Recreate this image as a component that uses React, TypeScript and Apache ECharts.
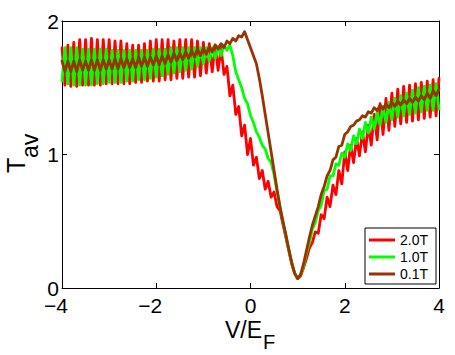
import { useEffect, useRef } from "react";
import * as echarts from "echarts";

// Sampling grid of V/E_F (step 1/16 from -4 to 4)
const vGrid: number[] = Array.from({ length: 129 }, (_, i) => -4 + i / 16);

const seriesNames = ["2.0T", "1.0T", "0.1T"];
const seriesColors = ["#ff0000", "#00ff00", "#993300"];

// T_av, one value per grid point
const tav2_0T = [
  1.80, 1.52, 1.82, 1.51, 1.84, 1.51, 1.86, 1.52, 1.86, 1.52,
  1.87, 1.52, 1.86, 1.52, 1.86, 1.53, 1.86, 1.53, 1.85, 1.53,
  1.85, 1.53, 1.83, 1.53, 1.82, 1.54, 1.82, 1.54, 1.83, 1.55,
  1.85, 1.55, 1.86, 1.55, 1.86, 1.56, 1.86, 1.56, 1.85, 1.57,
  1.86, 1.57, 1.86, 1.58, 1.86, 1.58, 1.85, 1.59, 1.84, 1.61,
  1.83, 1.62, 1.82, 1.63, 1.80, 1.60, 1.66, 1.44, 1.52, 1.30,
  1.36, 1.14, 1.22, 1.00, 1.12, 0.92, 0.98, 0.82, 0.88, 0.74,
  0.80, 0.68, 0.72, 0.61, 0.58, 0.48, 0.38, 0.28, 0.18, 0.11,
  0.07, 0.09, 0.15, 0.22, 0.30, 0.34, 0.42, 0.41, 0.55, 0.52,
  0.68, 0.61, 0.77, 0.70, 0.88, 0.78, 1.02, 0.88, 1.07, 0.94,
  1.12, 0.99, 1.17, 1.02, 1.22, 1.07, 1.30, 1.11, 1.38, 1.15,
  1.42, 1.18, 1.46, 1.21, 1.49, 1.23, 1.51, 1.24, 1.52, 1.25,
  1.53, 1.26, 1.54, 1.27, 1.55, 1.28, 1.56, 1.29, 1.57,
];

const tav1_0T = [
  1.55, 1.80, 1.53, 1.80, 1.52, 1.80, 1.52, 1.79, 1.52, 1.79,
  1.52, 1.79, 1.53, 1.79, 1.53, 1.79, 1.54, 1.78, 1.54, 1.78,
  1.54, 1.78, 1.55, 1.78, 1.55, 1.78, 1.56, 1.78, 1.56, 1.78,
  1.57, 1.79, 1.58, 1.79, 1.59, 1.79, 1.60, 1.80, 1.61, 1.80,
  1.62, 1.80, 1.63, 1.80, 1.64, 1.80, 1.66, 1.80, 1.68, 1.80,
  1.70, 1.80, 1.72, 1.81, 1.74, 1.82, 1.78, 1.82, 1.74, 1.62,
  1.56, 1.50, 1.42, 1.38, 1.29, 1.24, 1.17, 1.13, 1.07, 1.04,
  0.97, 0.94, 0.85, 0.72, 0.61, 0.50, 0.39, 0.29, 0.19, 0.11,
  0.07, 0.10, 0.16, 0.26, 0.34, 0.44, 0.49, 0.58, 0.62, 0.73,
  0.74, 0.84, 0.84, 0.93, 0.92, 1.01, 0.98, 1.08, 1.03, 1.14,
  1.08, 1.19, 1.12, 1.24, 1.16, 1.28, 1.19, 1.32, 1.22, 1.36,
  1.24, 1.39, 1.26, 1.42, 1.28, 1.44, 1.29, 1.46, 1.30, 1.48,
  1.31, 1.50, 1.32, 1.51, 1.33, 1.52, 1.33, 1.53, 1.34,
];

const tav0_1T = [
  1.70, 1.62, 1.70, 1.62, 1.70, 1.62, 1.71, 1.63, 1.70, 1.63,
  1.71, 1.63, 1.71, 1.63, 1.71, 1.64, 1.71, 1.64, 1.72, 1.64,
  1.72, 1.65, 1.72, 1.65, 1.72, 1.65, 1.73, 1.66, 1.73, 1.66,
  1.73, 1.67, 1.74, 1.67, 1.74, 1.68, 1.75, 1.69, 1.76, 1.70,
  1.76, 1.71, 1.77, 1.72, 1.78, 1.73, 1.79, 1.74, 1.80, 1.75,
  1.81, 1.77, 1.82, 1.79, 1.83, 1.80, 1.85, 1.83, 1.87, 1.85,
  1.89, 1.88, 1.92, 1.86, 1.80, 1.74, 1.68, 1.57, 1.44, 1.30,
  1.16, 1.02, 0.88, 0.74, 0.61, 0.50, 0.40, 0.29, 0.19, 0.11,
  0.07, 0.10, 0.18, 0.28, 0.38, 0.47, 0.54, 0.61, 0.70, 0.76,
  0.84, 0.88, 0.96, 0.98, 1.06, 1.07, 1.15, 1.17, 1.21, 1.22,
  1.25, 1.26, 1.29, 1.28, 1.32, 1.31, 1.35, 1.33, 1.37, 1.34,
  1.38, 1.35, 1.39, 1.36, 1.40, 1.37, 1.41, 1.38, 1.42, 1.39,
  1.43, 1.40, 1.44, 1.41, 1.46, 1.42, 1.48, 1.44, 1.49,
];

const allSeries = [tav2_0T, tav1_0T, tav0_1T];

const FONT = 'Arial, "Liberation Sans", Helvetica, sans-serif';

export default function App() {
  const ref = useRef<HTMLDivElement>(null);

  useEffect(() => {
    if (!ref.current) return;
    const chart = echarts.init(ref.current, null, { renderer: "svg" });

    const axisLine = { show: true, onZero: false, lineStyle: { color: "#000", width: 1 } };
    const axisTick = { show: true, inside: true, length: 5, lineStyle: { color: "#000", width: 1 } };

    const option: any = {
      animation: false,
      backgroundColor: "#ffffff",
      grid: { left: 62, right: 16, top: 21, bottom: 67 },
      xAxis: [
        {
          type: "value",
          min: -4,
          max: 4,
          interval: 2,
          position: "bottom",
          axisLine,
          axisTick,
          splitLine: { show: false },
          axisLabel: {
            color: "#000",
            fontSize: 21,
            fontFamily: FONT,
            margin: 7,
            formatter: (v: number) => (v < 0 ? `{n|\u2212${-v}}` : `${v}`),
            rich: {
              n: { fontSize: 21, fontFamily: FONT, color: "#000", padding: [0, 12, 0, 0] },
            },
          },
        },
        {
          type: "value",
          min: -4,
          max: 4,
          interval: 2,
          position: "top",
          axisLine,
          axisTick,
          splitLine: { show: false },
          axisLabel: { show: false },
        },
      ],
      yAxis: [
        {
          type: "value",
          min: 0,
          max: 2,
          interval: 1,
          position: "left",
          axisLine,
          axisTick,
          splitLine: { show: false },
          axisLabel: {
            color: "#000",
            fontSize: 21,
            fontFamily: FONT,
            margin: 3,
          },
        },
        {
          type: "value",
          min: 0,
          max: 2,
          interval: 1,
          position: "right",
          axisLine,
          axisTick,
          splitLine: { show: false },
          axisLabel: { show: false },
        },
      ],
      legend: {
        orient: "vertical",
        left: 365,
        top: 228,
        backgroundColor: "#ffffff",
        borderColor: "#000",
        borderWidth: 1,
        borderRadius: 0,
        padding: [5, 8, 3, 4],
        itemGap: 3,
        itemWidth: 26,
        itemHeight: 3,
        icon: "rect",
        textStyle: { fontSize: 14, fontFamily: FONT, color: "#000" },
        data: seriesNames,
      },
      series: allSeries.map((vals, k) => ({
        type: "line",
        name: seriesNames[k],
        xAxisIndex: 0,
        yAxisIndex: 0,
        data: vals.map((t, i) => [vGrid[i], t]),
        showSymbol: false,
        symbol: "none",
        color: seriesColors[k],
        lineStyle: { color: seriesColors[k], width: 2.8, join: "round", cap: "round" },
        z: 2 + k,
      })),
      graphic: [
        {
          type: "text",
          x: 225,
          y: 330,
          style: {
            text: "V/E",
            fontSize: 23,
            fontFamily: FONT,
            fill: "#000",
            align: "left",
            verticalAlign: "middle",
          },
        },
        {
          type: "text",
          x: 263,
          y: 342,
          style: {
            text: "F",
            fontSize: 20,
            fontFamily: FONT,
            fill: "#000",
            align: "left",
            verticalAlign: "middle",
          },
        },
        {
          type: "text",
          x: 16.3,
          y: 173,
          rotation: Math.PI / 2,
          style: {
            text: "T",
            fontSize: 25,
            fontFamily: FONT,
            fill: "#000",
            align: "left",
            verticalAlign: "middle",
          },
        },
        {
          type: "text",
          x: 30,
          y: 158,
          rotation: Math.PI / 2,
          style: {
            text: "av",
            fontSize: 23,
            fontFamily: FONT,
            fill: "#000",
            align: "left",
            verticalAlign: "middle",
          },
        },
      ],
    };

    chart.setOption(option);
    return () => chart.dispose();
  }, []);

  return (
    <div
      ref={ref}
      style={{ position: "absolute", left: 0, top: 0, width: 455, height: 355, background: "#fff" }}
    />
  );
}
